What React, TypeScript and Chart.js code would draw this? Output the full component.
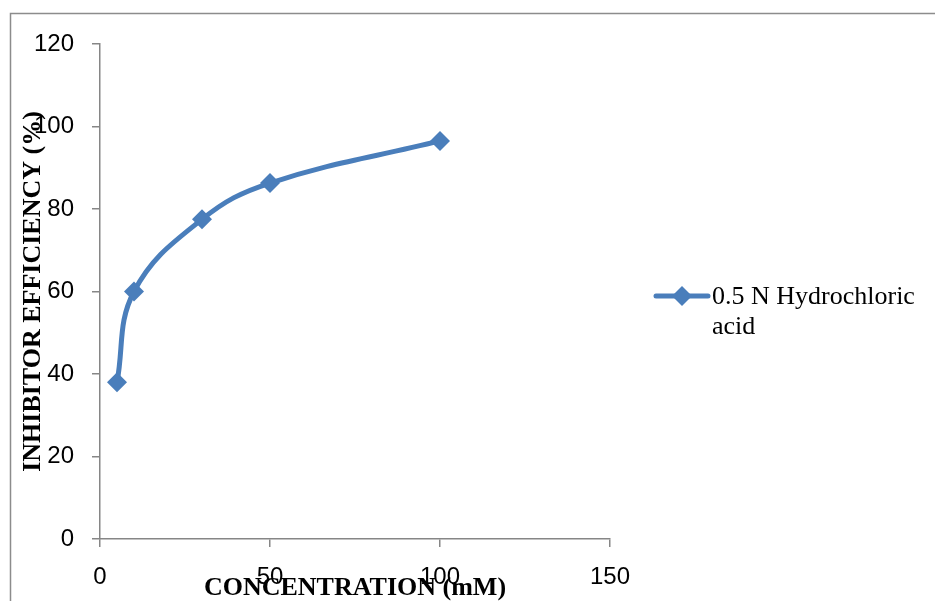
import React, { useEffect, useRef } from "react";
import { Chart, registerables } from "chart.js";

Chart.register(...registerables);

const concentrations = [5, 10, 30, 50, 100];
const efficiency = [38, 60, 77.5, 86.3, 96.5];
const seriesName = ["0.5 N Hydrochloric", "acid"];
const xTitle = "CONCENTRATION (mM)";
const yTitle = "INHIBITOR EFFICIENCY (%)";

const LINE_COLOR = "#4a7ebb";
const AXIS_COLOR = "#868686";

const decorPlugin = {
  id: "decor",
  afterDraw(chart: any) {
    const ctx = chart.ctx as CanvasRenderingContext2D;
    const area = chart.chartArea;
    ctx.save();
    // outer frame
    ctx.strokeStyle = "#8c8c8c";
    ctx.lineWidth = 1.5;
    ctx.beginPath();
    ctx.moveTo(10.5, chart.height + 5);
    ctx.lineTo(10.5, 13.5);
    ctx.lineTo(chart.width + 5, 13.5);
    ctx.stroke();

    // axis titles
    ctx.fillStyle = "#000";
    ctx.font = "bold 26px 'Liberation Serif'";
    ctx.textAlign = "center";
    ctx.textBaseline = "middle";
    ctx.fillText(xTitle, (area.left + area.right) / 2, 588);
    ctx.save();
    ctx.translate(33, (area.top + area.bottom) / 2);
    ctx.rotate(-Math.PI / 2);
    ctx.fillText(yTitle, 0, 0);
    ctx.restore();

    // legend
    const ly = 296;
    ctx.strokeStyle = LINE_COLOR;
    ctx.lineWidth = 5;
    ctx.lineCap = "round";
    ctx.beginPath();
    ctx.moveTo(656, ly);
    ctx.lineTo(708, ly);
    ctx.stroke();
    ctx.fillStyle = LINE_COLOR;
    ctx.beginPath();
    ctx.moveTo(682, ly - 10);
    ctx.lineTo(692, ly);
    ctx.lineTo(682, ly + 10);
    ctx.lineTo(672, ly);
    ctx.closePath();
    ctx.fill();
    ctx.fillStyle = "#000";
    ctx.font = "26px 'Liberation Serif'";
    ctx.textAlign = "left";
    ctx.textBaseline = "middle";
    ctx.fillText(seriesName[0], 712, ly + 1);
    ctx.fillText(seriesName[1], 712, ly + 31);
    ctx.restore();
  },
};

export default function App() {
  const ref = useRef<HTMLCanvasElement | null>(null);
  useEffect(() => {
    if (!ref.current) return;
    const chart = new Chart(ref.current, {
      type: "line",
      data: {
        datasets: [
          {
            label: seriesName.join(" "),
            data: concentrations.map((x, i) => ({ x, y: efficiency[i] })),
            borderColor: LINE_COLOR,
            backgroundColor: LINE_COLOR,
            borderWidth: 5,
            tension: 0.4,
            pointStyle: "rectRot",
            pointRadius: 10,
            pointBorderWidth: 0,
            pointBackgroundColor: LINE_COLOR,
          },
        ],
      },
      options: {
        responsive: false,
        animation: false,
        layout: { padding: { left: 10, top: 44, right: 325, bottom: 12 } },
        plugins: {
          legend: { display: false },
          tooltip: { enabled: false },
        },
        scales: {
          x: {
            type: "linear",
            min: 0,
            max: 150,
            afterFit: (s: any) => {
              s.height = 50;
            },
            ticks: {
              stepSize: 50,
              color: "#000",
              padding: 16,
              maxRotation: 0,
              font: { family: "'Liberation Sans'", size: 24 },
            },
            grid: {
              drawOnChartArea: false,
              drawTicks: true,
              tickLength: 8,
              color: AXIS_COLOR,
              lineWidth: 1.5,
            },
            border: { color: AXIS_COLOR, width: 1.5 },
          },
          y: {
            type: "linear",
            min: 0,
            max: 120,
            afterFit: (s: any) => {
              s.width = 90;
            },
            ticks: {
              stepSize: 20,
              color: "#000",
              padding: 18,
              font: { family: "'Liberation Sans'", size: 24 },
            },
            grid: {
              drawOnChartArea: false,
              drawTicks: true,
              tickLength: 8,
              color: AXIS_COLOR,
              lineWidth: 1.5,
            },
            border: { color: AXIS_COLOR, width: 1.5 },
          },
        },
      },
      plugins: [decorPlugin],
    } as any);
    return () => chart.destroy();
  }, []);
  return (
    <div style={{ position: "absolute", left: 0, top: 0, width: 935, height: 601, background: "#fff" }}>
      <canvas ref={ref} width={935} height={601} />
    </div>
  );
}
